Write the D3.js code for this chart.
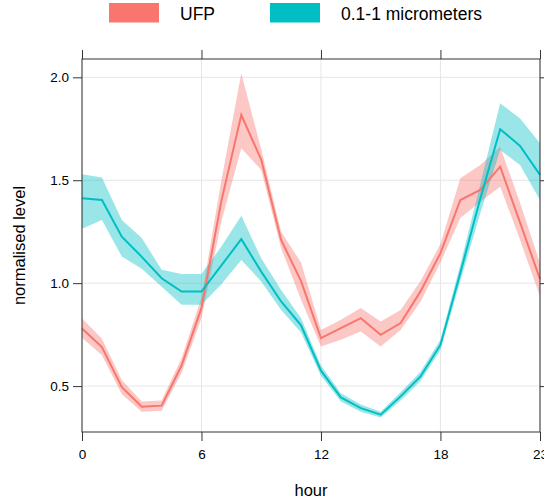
<!DOCTYPE html>
<html><head><meta charset="utf-8">
<script src="https://cdn.jsdelivr.net/npm/d3@7"></script>
<style>body{margin:0;background:#fff;} text{font-family:"Liberation Sans",Arial,sans-serif;}</style>
</head><body>
<svg id="c" width="544" height="502"></svg>
<script>
const hours = d3.range(0, 24);
const seriesNames = ["UFP", "0.1-1 micrometers"];
const seriesColors = ["#F8766D", "#00BFC4"];
const ufpMean = [0.78,0.69,0.495,0.40,0.405,0.60,0.88,1.40,1.817,1.60,1.21,1.01,0.733,0.782,0.83,0.749,0.806,0.96,1.146,1.404,1.453,1.566,1.294,1.02];
const ufpLow  = [0.735,0.65,0.46,0.375,0.38,0.565,0.83,1.30,1.655,1.55,1.17,0.92,0.692,0.725,0.765,0.692,0.773,0.91,1.10,1.316,1.396,1.469,1.21,0.935];
const ufpHigh = [0.83,0.73,0.53,0.425,0.43,0.635,0.93,1.50,2.02,1.65,1.25,1.10,0.773,0.822,0.879,0.814,0.87,1.01,1.19,1.51,1.574,1.663,1.39,1.097];
const pmMean = [1.413,1.404,1.226,1.128,1.024,0.959,0.959,1.086,1.214,1.056,0.911,0.795,0.575,0.445,0.393,0.361,0.45,0.547,0.70,1.051,1.41,1.748,1.667,1.526];
const pmLow  = [1.264,1.307,1.129,1.07,0.983,0.895,0.895,0.995,1.113,1.008,0.87,0.76,0.55,0.425,0.375,0.348,0.43,0.525,0.675,1.01,1.34,1.647,1.574,1.404];
const pmHigh = [1.529,1.513,1.307,1.22,1.065,1.044,1.044,1.178,1.327,1.121,0.967,0.83,0.60,0.465,0.41,0.375,0.47,0.57,0.725,1.09,1.48,1.874,1.80,1.68];
const xTicks = [0, 6, 12, 18, 23];
const yTicks = [0.5, 1.0, 1.5, 2.0];

const svg = d3.select("#c");
const L = 82, R = 540, T = 59, B = 432;
const x = d3.scaleLinear().domain([0, 23]).range([L, R]);
const y = d3.scaleLinear().domain([0.277, 2.089]).range([B, T]);

// grid
const g = svg.append("g");
g.selectAll("line.gx").data(xTicks).join("line")
  .attr("x1", d => x(d)).attr("x2", d => x(d)).attr("y1", T).attr("y2", B)
  .attr("stroke", "#e6e6e6").attr("stroke-width", 1);
g.selectAll("line.gy").data(yTicks).join("line")
  .attr("x1", L).attr("x2", R).attr("y1", d => y(d)).attr("y2", d => y(d))
  .attr("stroke", "#e6e6e6").attr("stroke-width", 1);

const series = [
  {mean: ufpMean, lo: ufpLow, hi: ufpHigh, color: seriesColors[0]},
  {mean: pmMean, lo: pmLow, hi: pmHigh, color: seriesColors[1]}
];
const area = d3.area().x(d => x(d.h)).y0(d => y(d.lo)).y1(d => y(d.hi));
const line = d3.line().x(d => x(d.h)).y(d => y(d.v));

const plot = svg.append("g");
series.forEach(s => {
  plot.append("path")
    .datum(hours.map((h, i) => ({h, lo: s.lo[i], hi: s.hi[i]})))
    .attr("d", area).attr("fill", s.color).attr("fill-opacity", 0.4);
});
series.forEach(s => {
  plot.append("path")
    .datum(hours.map((h, i) => ({h, v: s.mean[i]})))
    .attr("d", line).attr("fill", "none").attr("stroke", s.color).attr("stroke-width", 2);
});

// axes
const axCol = "#333";
const axLeft = svg.append("g").attr("transform", `translate(${L},0)`)
  .call(d3.axisLeft(y).tickValues(yTicks).tickFormat(d3.format(".1f")).tickSize(9).tickPadding(4));
const axBottom = svg.append("g").attr("transform", `translate(0,${B})`)
  .call(d3.axisBottom(x).tickValues(xTicks).tickFormat(d3.format("d")).tickSize(9).tickPadding(8));
const axTop = svg.append("g").attr("transform", `translate(0,${T})`)
  .call(d3.axisTop(x).tickValues(xTicks).tickFormat("").tickSize(9));
const axRight = svg.append("g").attr("transform", `translate(${R},0)`)
  .call(d3.axisRight(y).tickValues(yTicks).tickFormat("").tickSize(9));
[axLeft, axBottom, axTop, axRight].forEach(a => {
  a.select(".domain").remove();
  a.selectAll("line").attr("stroke", axCol);
  a.selectAll("text").attr("fill", "#000").style("font-size", "13.5px")
    .style("font-family", '"Liberation Sans", Arial, sans-serif');
});
svg.append("rect").attr("x", L).attr("y", T).attr("width", R - L).attr("height", B - T)
  .attr("fill", "none").attr("stroke", axCol).attr("stroke-width", 1);

// titles
svg.append("text").attr("x", (L + R) / 2).attr("y", 496).attr("text-anchor", "middle")
  .style("font-size", "16.5px").text("hour");
svg.append("text").attr("transform", `translate(25,${(T + B) / 2}) rotate(-90)`)
  .attr("text-anchor", "middle").style("font-size", "16.5px").text("normalised level");

// legend
const legX = [109, 270];
seriesNames.forEach((n, i) => {
  svg.append("rect").attr("x", legX[i]).attr("y", 3).attr("width", 50).attr("height", 19.5)
    .attr("fill", seriesColors[i]);
  svg.append("text").attr("x", legX[i] + 71).attr("y", 19.5).style("font-size", "17.5px").text(n);
});
</script>
</body></html>
